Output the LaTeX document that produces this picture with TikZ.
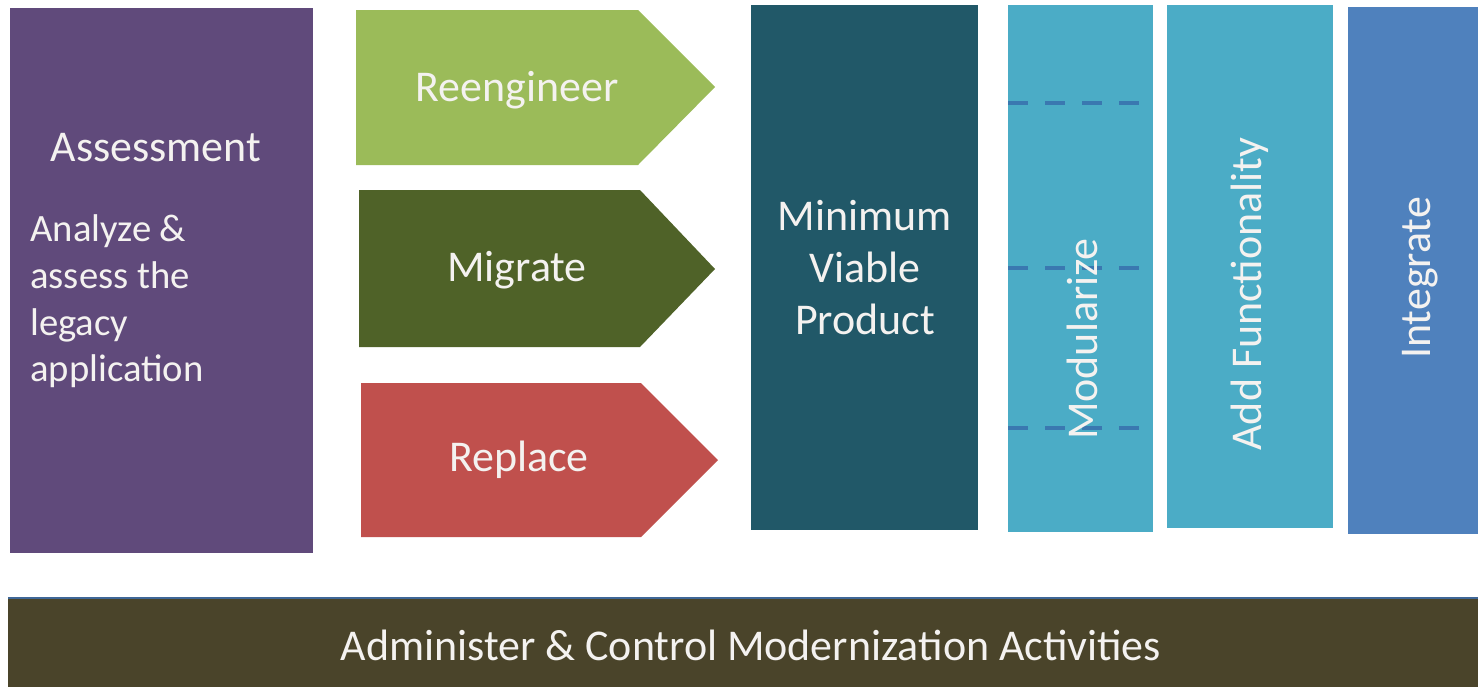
\documentclass[tikz,border=0pt]{standalone}
\usepackage{fontspec}
\setmainfont{Carlito}
\usepackage{tikz}
\definecolor{assesscol}{HTML}{604A7B}
\definecolor{reengcol}{HTML}{9BBB59}
\definecolor{migrcol}{HTML}{4F6228}
\definecolor{replcol}{HTML}{C0504D}
\definecolor{mvpcol}{HTML}{215868}
\definecolor{stepcol}{HTML}{4BACC6}
\definecolor{integcol}{HTML}{4F81BD}
\definecolor{admincol}{HTML}{4A442A}
\definecolor{dashcol}{HTML}{3A78B0}
\definecolor{labelcol}{HTML}{F4F2F0}
\tikzstyle{label}=[
        text=labelcol,
        inner sep=0pt,
        font=\fontsize{25}{29.6}\selectfont
]
\tikzstyle{vlabel}=[
        label,
        rotate=90
]
\tikzstyle{split}=[
        draw=dashcol,
        line width=2.3pt,
        dash pattern=on 11.4pt off 9.7pt
]

\begin{document}
\begin{tikzpicture}[x=0.02cm,y=-0.02cm]
                        \useasboundingbox (0,0) rectangle (1478,687);

                        % assessment
                        \fill[assesscol] (10,8) rectangle (313,553);
                        \node[label] (assesshead) at (156,148) {Assessment};
                        \node[label,anchor=north west,align=left,font=\fontsize{22}{26.7}\selectfont] (assesstext) at (30,214)
                            {Analyze \&\\assess the\\legacy\\application};

                        % the three paths
                        \fill[reengcol] (356,10) -- (638,10) -- (715,87) -- (638,165) -- (356,165) -- cycle;
                        \fill[migrcol] (359,190) -- (640,190) -- (715,269) -- (640,347) -- (359,347) -- cycle;
                        \fill[replcol] (361,383) -- (641,383) -- (718,460) -- (641,537) -- (361,537) -- cycle;
                        \node[label] (reeng) at (517,90) {Reengineer};
                        \node[label] (migr) at (517,270) {Migrate};
                        \node[label] (repl) at (519,460) {Replace};

                        % minimum viable product
                        \fill[mvpcol] (751,5) rectangle (978,530);
                        \node[label,align=center] (mvp) at (865,268) {Minimum\\Viable\\Product};

                        % modularize
                        \fill[stepcol] (1008,5) rectangle (1153,532);
                        \foreach \y in {103,268,428} {
                            \draw[split] (1008,\y) -- (1140,\y);
                        }
                        \node[vlabel] (modul) at (1082,339) {Modularize};

                        \fill[stepcol] (1167,5) rectangle (1333,528);
                        \node[vlabel] (addfunc) at (1250,294) {Add Functionality};

                        \fill[integcol] (1348,7) rectangle (1478,534);
                        \node[vlabel] (integ) at (1420,278) {Integrate};

                        % bottom bar
                        \fill[admincol] (8,598) rectangle (1478,687);
                        \draw[integcol!80!black,line width=1.2pt] (8,598) -- (1478,598);
                        \node[label] (admin) at (751,645) {Administer \& Control Modernization Activities};

                    \end{tikzpicture}
\end{document}
